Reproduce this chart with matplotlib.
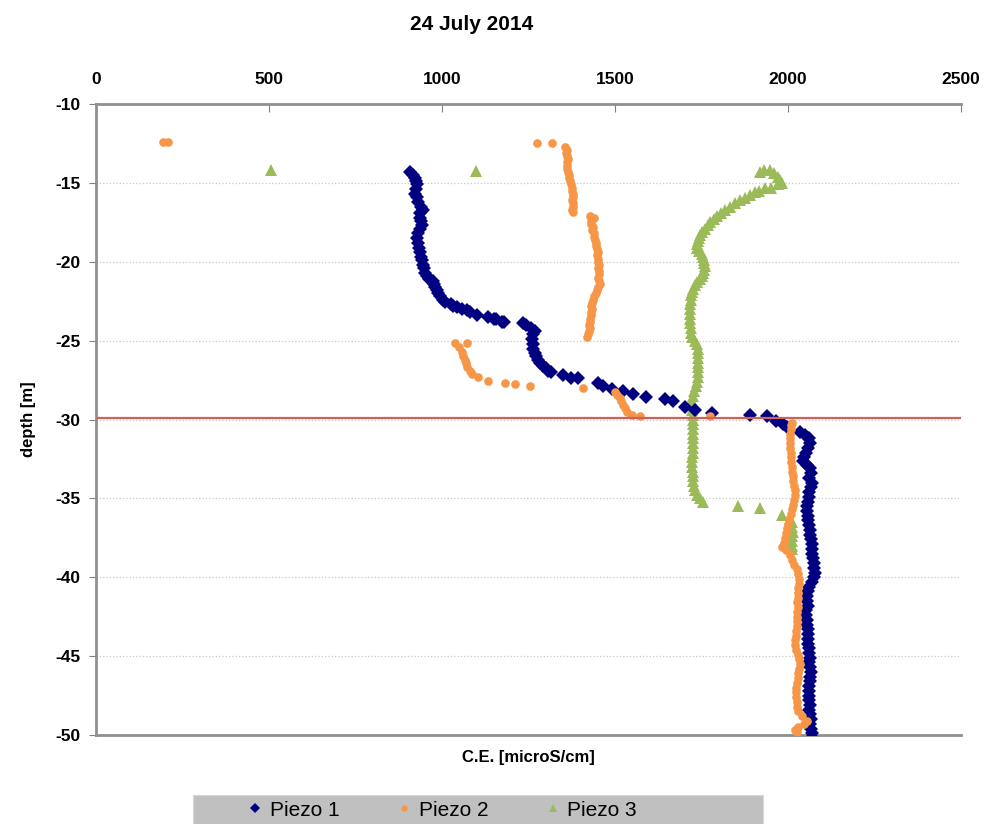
import matplotlib
matplotlib.use("Agg")
import matplotlib.pyplot as plt
from matplotlib.patches import Rectangle
from matplotlib.lines import Line2D

plt.rcParams['font.family'] = ['Liberation Sans', 'DejaVu Sans']
plt.rcParams['axes.unicode_minus'] = False

title = "24 July 2014"
xlabel = "C.E. [microS/cm]"
ylabel = "depth [m]"
series_names = ["Piezo 1", "Piezo 2", "Piezo 3"]
x_ticks = [0, 500, 1000, 1500, 2000, 2500]
y_ticks = [-10, -15, -20, -25, -30, -35, -40, -45, -50]
ref_depth = -29.9

# Piezo 1 (depth, CE)
p1_depth = [-14.3, -14.5, -14.7, -14.9, -15.1, -15.4, -15.7, -15.9, -16.2, -16.5, -16.7, -16.9, -17.2, -17.4,
            -17.7, -17.9, -18.2, -18.5, -18.8, -19.1, -19.4, -19.7, -19.9, -20.2, -20.4, -20.7, -20.9, -21.1,
            -21.2, -21.4, -21.6, -21.8, -22.0, -22.2, -22.4, -22.55, -22.7, -22.8, -22.9, -23.0, -23.06, -23.2,
            -23.4, -23.5, -23.6, -23.65, -23.8, -23.85,
            -23.9, -24.0, -24.2, -24.4, -24.6, -24.9, -25.2, -25.5, -25.8, -26.0, -26.2, -26.4, -26.6, -26.75,
            -26.9, -27.0, -27.2, -27.35, -27.4, -27.7, -27.85, -28.05, -28.2, -28.4, -28.55, -28.7, -28.85,
            -29.2, -29.4, -29.6, -29.7, -29.8, -30.1, -30.3, -30.5, -30.8, -31.0, -31.2, -31.5, -31.8, -32.1,
            -32.4, -32.6, -32.9, -33.1, -33.4, -33.7, -34.0, -34.3, -34.6, -34.9, -35.2, -35.5, -35.8, -36.1,
            -36.4, -36.7, -37.0, -37.3, -37.6, -37.9, -38.2, -38.5, -38.8, -39.1, -39.4, -39.7, -40.0, -40.3,
            -40.6, -40.9, -41.2, -41.5, -41.8, -42.1, -42.4, -42.7, -43.0, -43.3, -43.6, -43.9, -44.2, -44.5,
            -44.8, -45.1, -45.4, -45.7, -46.0, -46.3, -46.6, -46.9, -47.2, -47.5, -47.8, -48.1, -48.4, -48.7,
            -49.0, -49.3, -49.6, -49.9, -50.1]
p1_ce = [907, 915, 922, 925, 928, 925, 922, 927, 930, 938, 945, 936, 935, 940,
         942, 935, 930, 929, 931, 934, 936, 940, 942, 944, 947, 951, 956, 963,
         974, 976, 980, 985, 988, 994, 1002, 1009, 1025, 1033, 1043, 1058, 1072, 1081,
         1101, 1133, 1150, 1156, 1172, 1180,
         1234, 1243, 1258, 1269, 1264, 1260, 1262, 1263, 1268, 1272, 1277, 1284, 1292, 1300,
         1306, 1314, 1350, 1374, 1393, 1451, 1465, 1491, 1523, 1552, 1590, 1645, 1668,
         1702, 1731, 1780, 1890, 1939, 1965, 1985, 1997, 2035, 2050, 2062, 2065, 2058, 2052,
         2045, 2043, 2055, 2064, 2066, 2062, 2069, 2066, 2062, 2060, 2058, 2056, 2055, 2057,
         2058, 2061, 2063, 2064, 2066, 2068, 2069, 2069, 2072, 2074, 2076, 2078, 2075, 2068,
         2060, 2058, 2056, 2055, 2057, 2053, 2052, 2054, 2056, 2058, 2057, 2059, 2058, 2060,
         2062, 2063, 2061, 2064, 2066, 2065, 2064, 2062, 2060, 2062, 2061, 2063, 2061, 2064,
         2066, 2065, 2067, 2069, 2069]

# Piezo 2
p2_depth = [-12.4, -12.4, -12.47, -12.5,
            -12.7, -12.9, -13.1, -13.3, -13.5, -13.7, -13.9, -14.1, -14.3, -14.5, -14.7, -14.9, -15.1, -15.3,
            -15.5, -15.7, -15.9, -16.1, -16.3, -16.5, -16.7, -16.85,
            -17.1, -17.2, -17.4, -17.6, -17.8, -18.0, -18.2, -18.4, -18.6, -18.8, -19.0, -19.2, -19.4, -19.6,
            -19.8, -20.0, -20.2, -20.4, -20.6, -20.8, -21.0, -21.2, -21.4, -21.6, -21.8, -22.0, -22.2, -22.4,
            -22.6, -22.8, -23.0, -23.2, -23.4, -23.6, -23.8, -24.0, -24.2, -24.4, -24.6, -24.8,
            -25.15, -25.15, -25.4, -25.7, -25.95, -26.2, -26.45, -26.7, -26.9, -27.1, -27.3, -27.55, -27.7,
            -27.75, -27.9, -28.0, -28.26, -28.45, -28.64, -28.85, -29.08, -29.3, -29.52, -29.7, -29.78, -29.78,
            -30.2, -30.35, -30.6, -30.9, -31.2, -31.5, -31.8, -32.1, -32.4, -32.7, -33.0, -33.3, -33.6, -33.9,
            -34.2, -34.5, -34.8, -35.1, -35.4, -35.7, -36.0, -36.3, -36.6, -36.9, -37.2, -37.5, -37.8, -38.1,
            -38.3, -38.6, -38.9, -39.2, -39.5, -39.8, -40.1, -40.4, -40.7, -41.0, -41.3, -41.6, -41.9, -42.2,
            -42.5, -42.8, -43.1, -43.4, -43.7, -44.0, -44.3, -44.6, -44.9, -45.2, -45.5, -45.8, -46.1, -46.4,
            -46.7, -47.0, -47.3, -47.6, -47.9, -48.2, -48.5, -48.8, -49.1, -49.3, -49.5, -49.7, -49.8]
p2_ce = [193, 207, 1275, 1318,
         1355, 1362, 1358, 1360, 1365, 1361, 1362, 1360, 1364, 1366, 1368, 1370, 1374, 1376,
         1375, 1378, 1379, 1377, 1380, 1378, 1377, 1379,
         1428, 1440, 1430, 1432, 1436, 1433, 1438, 1440, 1442, 1444, 1446, 1448, 1450, 1449,
         1452, 1451, 1454, 1452, 1455, 1453, 1450, 1455, 1457, 1450, 1448, 1445, 1440, 1437,
         1433, 1432, 1434, 1431, 1430, 1428, 1429, 1425, 1427, 1424, 1422, 1419,
         1038, 1072, 1050, 1058, 1062, 1066, 1068, 1072, 1080, 1088, 1104, 1133, 1182,
         1211, 1254, 1408, 1500, 1506, 1514, 1518, 1523, 1530, 1535, 1549, 1572, 1775,
         2012, 2010, 2008, 2005, 2006, 2005, 2006, 2008, 2009, 2010, 2011, 2013, 2014, 2015,
         2017, 2019, 2020, 2018, 2014, 2012, 2008, 2003, 2000, 1996, 1993, 1990, 1988, 1984,
         1995, 2005, 2012, 2018, 2025, 2030, 2033, 2031, 2028, 2030, 2028, 2026, 2028, 2026,
         2025, 2027, 2026, 2024, 2022, 2021, 2020, 2024, 2028, 2033, 2035, 2032, 2030, 2029,
         2027, 2024, 2022, 2024, 2025, 2026, 2028, 2040, 2055, 2045, 2030, 2020, 2026]

# Piezo 3
p3_depth = [-14.18, -14.25,
            -14.2, -14.3, -14.2, -14.4, -14.6, -14.8, -15.0, -15.1, -15.3, -15.3, -15.5, -15.6, -15.8, -15.95,
            -16.1, -16.3, -16.5, -16.7, -16.9, -17.1, -17.3, -17.5, -17.7, -17.9, -18.1, -18.3, -18.5, -18.7,
            -18.9, -19.1, -19.3, -19.5, -19.7, -19.9, -20.1, -20.3, -20.5, -20.7, -20.9, -21.1, -21.3, -21.5,
            -21.7, -21.9, -22.1, -22.4, -22.7, -23.0, -23.3, -23.6, -23.9, -24.2, -24.5, -24.8, -25.0, -25.2,
            -25.5, -25.8, -26.1, -26.4, -26.7, -27.0, -27.3, -27.6, -27.9, -28.2, -28.5, -28.8, -29.1, -29.4,
            -29.7, -30.0, -30.3, -30.6, -30.9, -31.2, -31.5, -31.8, -32.1, -32.4, -32.7, -33.0, -33.3, -33.6,
            -33.9, -34.2, -34.5, -34.8, -35.0, -35.2, -35.5, -35.6, -36.05, -36.3, -36.5, -36.8, -37.1, -37.4,
            -37.7, -38.0, -38.2]
p3_ce = [506, 1098,
         1930, 1919, 1948, 1960, 1971, 1978, 1983, 1970, 1950, 1933, 1915, 1905, 1890, 1875,
         1862, 1848, 1832, 1818, 1805, 1795, 1785, 1776, 1768, 1760, 1752, 1747, 1743, 1740,
         1738, 1737, 1742, 1750, 1754, 1757, 1758, 1760, 1757, 1754, 1751, 1745, 1737, 1730,
         1726, 1723, 1721, 1719, 1717, 1716, 1717, 1718, 1717, 1719, 1721, 1723, 1730, 1737,
         1739, 1740, 1741, 1740, 1741, 1740, 1739, 1737, 1733, 1729, 1725, 1723, 1722, 1723,
         1724, 1725, 1726, 1725, 1724, 1725, 1726, 1725, 1724, 1723, 1723, 1723, 1724, 1725,
         1726, 1728, 1731, 1737, 1745, 1754, 1855, 1919, 1983, 2005, 2012, 2013, 2014, 2013,
         2012, 2011, 2012]

c1, c2, c3 = '#000080', '#F79646', '#9BBB59'

fig = plt.figure(figsize=(9.85, 8.24), dpi=100)
ax = fig.add_axes([96/985, 1-735/824, (961-96)/985, (735-104)/824])

ax.plot(p1_ce, p1_depth, linestyle='none', marker='D', markersize=7.5, color=c1, markeredgewidth=0, zorder=3)
ax.plot(p2_ce, p2_depth, linestyle='none', marker='o', markersize=6.2, color=c2, markeredgewidth=0, zorder=4)
ax.plot(p3_ce, p3_depth, linestyle='none', marker='^', markersize=8.5, color=c3, markeredgewidth=0, zorder=2)
ax.axhline(ref_depth, color='#D0605A', linewidth=1.6, zorder=5)

ax.set_xlim(0, 2500)
ax.set_ylim(-50, -10)
ax.set_xticks(x_ticks)
ax.set_yticks(y_ticks)
ax.xaxis.tick_top()
ax.tick_params(axis='x', direction='in', length=6, color='#808080', pad=12, labelsize=12.5)
ax.tick_params(axis='y', direction='out', length=5, color='#808080', pad=6, labelsize=12.5)
for lab in ax.get_xticklabels() + ax.get_yticklabels():
    lab.set_fontweight('bold')
ax.yaxis.grid(True, color='#C8C8C8', linestyle=':', linewidth=0.9)
ax.set_axisbelow(True)
for s in ['left', 'top', 'bottom']:
    ax.spines[s].set_color('#909090')
    ax.spines[s].set_linewidth(2)
ax.spines['right'].set_visible(False)

ax.xaxis.set_label_position('bottom')
ax.set_xlabel(xlabel, fontsize=12, fontweight='bold', labelpad=11)
ax.set_ylabel(ylabel, fontsize=12, fontweight='bold', labelpad=14)
fig.text(472/985, 1-25/824, title, ha='center', va='center', fontsize=15, fontweight='bold')

fig.patches.append(Rectangle((193/985, 0), (763-193)/985, 29/824, transform=fig.transFigure,
                             facecolor='#C0C0C0', edgecolor='#D8D8D8', linewidth=0.8, zorder=0))
handles = [Line2D([], [], linestyle='none', marker='D', markersize=5, color=c1, markeredgewidth=0),
           Line2D([], [], linestyle='none', marker='o', markersize=4.5, color=c2, markeredgewidth=0),
           Line2D([], [], linestyle='none', marker='^', markersize=5.5, color=c3, markeredgewidth=0)]
fig.legend(handles, series_names, loc='center', bbox_to_anchor=(443/985, 1-810/824), ncol=3,
           frameon=False, fontsize=15, handlelength=0.6, handletextpad=0.4, columnspacing=2.8)

fig.savefig('out.png', dpi=100)
